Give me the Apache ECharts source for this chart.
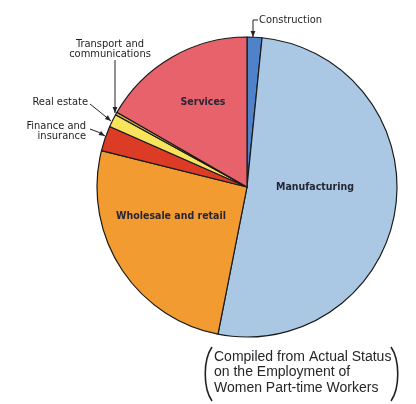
<!DOCTYPE html>
<html>
<head>
<meta charset="utf-8">
<script src="https://cdn.jsdelivr.net/npm/echarts@6/dist/echarts.min.js"></script>
<style>
  html, body { margin: 0; padding: 0; background: #fff; }
  #chart { width: 416px; height: 404px; }
</style>
</head>
<body>
<div id="chart"></div>
<script>
// Industry shares of women part-time workers (%)
const industries = [
  'Construction',
  'Manufacturing',
  'Wholesale and retail',
  'Finance and\ninsurance',
  'Real estate',
  'Transport and\ncommunications',
  'Services'
];
const shares = [1.6, 51.5, 25.8, 2.7, 1.4, 0.3, 16.7];
const sliceColors = ['#4f82c8', '#aac8e4', '#f29b30', '#dc3b26', '#f8e45c', '#c9b04a', '#e8626b'];
const insideLabels = ['Manufacturing', 'Wholesale and retail', 'Services'];
const sourceNote = [
  'Compiled from Actual Status',
  'on the Employment of',
  'Women Part-time Workers'
];

const narrow = "'Liberation Sans Narrow', 'DejaVu Sans Condensed', 'Roboto Condensed', sans-serif";

// where each label sits, and the leader line for the small slices
const labelPlacement = {
  'Construction': { x: 259, y: 20, align: 'left', line: [[253, 37], [253, 20], [258, 20]] },
  'Manufacturing': { x: 315, y: 187, align: 'center' },
  'Wholesale and retail': { x: 171, y: 216, align: 'center' },
  'Finance and\ninsurance': { x: 86, y: 131, align: 'right', line: [[105, 136], [98, 132], [90, 129]] },
  'Real estate': { x: 88, y: 102, align: 'right', line: [[111, 121], [100, 112], [90, 104]] },
  'Transport and\ncommunications': { x: 110, y: 49, align: 'center', line: [[115, 113], [115, 80], [115, 60]] },
  'Services': { x: 203, y: 102, align: 'center' }
};

const chart = echarts.init(document.getElementById('chart'), null, { renderer: 'canvas' });

const pieData = industries.map((name, i) => {
  const inside = insideLabels.indexOf(name) >= 0;
  return {
    name: name,
    value: shares[i],
    itemStyle: { color: sliceColors[i] },
    label: inside
      ? { position: 'inside', fontSize: 10.5, fontWeight: 'bold', color: '#262636' }
      : { position: 'outside', fontSize: 11, color: '#1e1e1e', lineHeight: 10 },
    labelLine: { show: !inside, lineStyle: { color: '#222', width: 1 } }
  };
});

function arrow(tip, from) {
  const dx = tip[0] - from[0], dy = tip[1] - from[1];
  const len = Math.sqrt(dx * dx + dy * dy);
  const ux = dx / len, uy = dy / len;
  const bx = tip[0] - ux * 6, by = tip[1] - uy * 6;
  const px = -uy * 2.4, py = ux * 2.4;
  return {
    type: 'polygon',
    shape: { points: [tip, [bx + px, by + py], [bx - px, by - py]] },
    style: { fill: '#222' },
    silent: true
  };
}

const arrows = industries
  .filter(n => labelPlacement[n].line)
  .map(n => {
    const l = labelPlacement[n].line;
    return arrow(l[0], l[1]);
  });

function paren(xEdge, xBulge) {
  return {
    type: 'bezierCurve',
    shape: { x1: xEdge, y1: 347, cpx1: xBulge, cpy1: 360, cpx2: xBulge, cpy2: 388, x2: xEdge, y2: 401 },
    style: { stroke: '#222', lineWidth: 1.6, fill: null },
    silent: true
  };
}

chart.setOption({
  animation: false,
  backgroundColor: '#fff',
  textStyle: { fontFamily: narrow },
  series: [{
    type: 'pie',
    center: [247, 187],
    radius: [0, 150],
    startAngle: 90,
    clockwise: true,
    avoidLabelOverlap: false,
    itemStyle: { borderColor: '#1a1a1a', borderWidth: 1.2 },
    label: { fontFamily: narrow },
    emphasis: { disabled: true },
    data: pieData,
    labelLayout: function (params) {
      const p = labelPlacement[industries[params.dataIndex]];
      const out = { x: p.x, y: p.y, align: p.align, verticalAlign: 'middle' };
      if (p.line) out.labelLinePoints = p.line;
      return out;
    }
  }],
  graphic: [
    ...arrows,
    paren(212, 203),
    paren(391, 400),
    {
      type: 'text',
      left: 214,
      top: 349,
      silent: true,
      style: {
        text: sourceNote.join('\n'),
        font: "14px 'Liberation Sans', Arial, sans-serif",
        lineHeight: 15.5,
        fill: '#262626'
      }
    }
  ]
});
</script>
</body>
</html>
